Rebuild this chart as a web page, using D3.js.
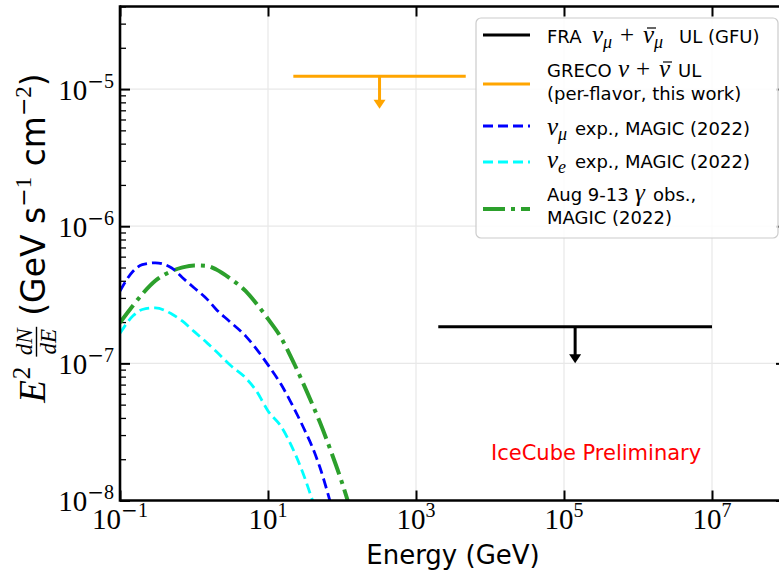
<!DOCTYPE html>
<html><head><meta charset="utf-8">
<script src="https://cdn.jsdelivr.net/npm/d3@7"></script>
<style>body{margin:0;background:#fff} text{white-space:pre}</style>
</head><body><svg id="c" width="779" height="578"></svg>
<script>
// ---------------- data ----------------
const numuEnergy = [0.1,0.15,0.2,0.3,0.5,0.7,1,1.5,2,3,5,7,10,15,20,30,40,50,70];
const numuFlux   = [3.37e-7,4.69e-7,5.25e-7,5.41e-7,4.96e-7,4.21e-7,3.56e-7,2.94e-7,2.47e-7,2.03e-7,1.58e-7,1.27e-7,9.75e-8,7.03e-8,5.31e-8,3.42e-8,2.43e-8,1.76e-8,9.6e-9];
const nueEnergy  = [0.1,0.15,0.2,0.3,0.5,0.7,1,1.5,2,3,5,7,10,15,20,30,40,50];
const nueFlux    = [1.66e-7,2.22e-7,2.47e-7,2.54e-7,2.29e-7,2.03e-7,1.71e-7,1.41e-7,1.22e-7,9.84e-8,7.82e-8,6.27e-8,4.5e-8,3.47e-8,2.61e-8,1.56e-8,1.0e-8,7.1e-9];
const gammaEnergy= [0.1,0.15,0.2,0.3,0.5,0.7,1,1.5,2,3,5,7,10,15,20,30,40,50,70,100,120,150];
const gammaFlux  = [1.98e-7,2.64e-7,3.20e-7,4.0e-7,4.71e-7,5.01e-7,5.18e-7,5.14e-7,4.83e-7,4.20e-7,3.36e-7,2.72e-7,2.11e-7,1.54e-7,1.14e-7,7.12e-8,4.99e-8,3.75e-8,2.33e-8,1.35e-8,9.9e-9,6.6e-9];
const fraEnergyRange   = [2e3, 1e7];
const fraUpperLimit    = 1.85e-7;
const fraArrowTip      = 1.0e-7;
const grecoEnergyRange = [22, 4.7e3];
const grecoUpperLimit  = 1.24e-5;
const grecoArrowTip    = 7.2e-6;
const xTickValues   = [1e-1, 1e1, 1e3, 1e5, 1e7];
const xTickExponents= ["−1","1","3","5","7"];
const yTickValues   = [1e-8, 1e-7, 1e-6, 1e-5];
const yTickExponents= ["−8","−7","−6","−5"];
const colors = {fra:"#000000", greco:"#ffa500", numu:"#0000ff", nue:"#00ffff", gamma:"#2ca02c"};

// ---------------- setup ----------------
const SANS = "'DejaVu Sans', sans-serif";
const SERIF = "'Liberation Serif', 'DejaVu Serif', serif";
const svg = d3.select("#c");
const L = 120, R = 786, T = 6.5, B = 500.5;
const x = d3.scaleLog().domain([1e-1, 1e8]).range([L, R]);
const y = d3.scaleLog().domain([1e-8, 4e-5]).range([B, T]);

svg.append("rect").attr("width",779).attr("height",578).attr("fill","#fff");
svg.append("defs").append("clipPath").attr("id","clip")
  .append("rect").attr("x",L).attr("y",T).attr("width",R-L).attr("height",B-T);

// grid
const grid = svg.append("g").attr("stroke","#e8e8e8").attr("stroke-width",1.2);
xTickValues.forEach(v=>grid.append("line").attr("x1",x(v)).attr("x2",x(v)).attr("y1",T).attr("y2",B));
yTickValues.forEach(v=>grid.append("line").attr("y1",y(v)).attr("y2",y(v)).attr("x1",L).attr("x2",R));

const yMinor = [];
for (let d=-8; d<=-5; d++) for (let k=2; k<=9; k++){ const v=k*Math.pow(10,d); if (v<=4e-5) yMinor.push(v); }

function styleAxis(g, w){ g.select(".domain").remove(); g.selectAll("line").attr("stroke","#000").attr("stroke-width",w); g.selectAll("text").remove(); }
svg.append("g").attr("transform",`translate(${L},0)`).call(d3.axisLeft(y).tickValues(yTickValues).tickSizeInner(-10).tickSizeOuter(0)).call(g=>styleAxis(g,2));
svg.append("g").attr("transform",`translate(${L},0)`).call(d3.axisLeft(y).tickValues(yMinor).tickSizeInner(-6).tickSizeOuter(0)).call(g=>styleAxis(g,1.3));
svg.append("g").attr("transform",`translate(${R},0)`).call(d3.axisRight(y).tickValues(yTickValues).tickSizeInner(-10).tickSizeOuter(0)).call(g=>styleAxis(g,2));
svg.append("g").attr("transform",`translate(${R},0)`).call(d3.axisRight(y).tickValues(yMinor).tickSizeInner(-6).tickSizeOuter(0)).call(g=>styleAxis(g,1.3));
svg.append("g").attr("transform",`translate(0,${B})`).call(d3.axisBottom(x).tickValues(xTickValues).tickSizeInner(-10).tickSizeOuter(0)).call(g=>styleAxis(g,2));
svg.append("g").attr("transform",`translate(0,${T})`).call(d3.axisTop(x).tickValues(xTickValues).tickSizeInner(-10).tickSizeOuter(0)).call(g=>styleAxis(g,2));

// rich text helper (segments may carry absolute x, baseline offset o, and a bar flag)
function rich(parent, px, py, segs, anchor){
  const t = parent.append("text").attr("x",px).attr("y",py).attr("text-anchor",anchor||"start");
  let cur = 0; const bars = [];
  segs.forEach(s=>{
    const sp = t.append("tspan").text(s.t).attr("font-family", s.f||SANS).attr("font-size", s.s)
      .attr("fill", s.c||"#000");
    if (s.i) sp.attr("font-style","italic");
    if (s.x!=null) sp.attr("x", s.x);
    if (s.dx) sp.attr("dx", s.dx);
    const off = s.o||0; sp.attr("dy", off-cur); cur = off;
    if (s.bar) bars.push(sp);
  });
  bars.forEach(sp=>{
    const bb = sp.node().getBBox();
    parent.append("line").attr("x1",bb.x+4).attr("x2",bb.x+bb.width+1)
      .attr("y1",py-15).attr("y2",py-15).attr("stroke","#000").attr("stroke-width",1.2);
  });
  return t;
}
const MINUS_F = SANS;
function expSegs(e, size, sup, off){
  const segs = [{t:"10",f:SERIF,s:size}];
  if (e.startsWith("−")) { segs.push({t:"−",f:MINUS_F,s:sup,o:off}); segs.push({t:e.slice(1),f:SERIF,s:sup,o:off}); }
  else segs.push({t:e,f:SERIF,s:sup,o:off});
  return segs;
}

// tick labels
xTickValues.forEach((v,i)=>rich(svg, x(v), 529, expSegs(xTickExponents[i],29,20,-12), "middle"));
yTickValues.forEach((v,i)=>rich(svg, 114, y(v)+10.5, expSegs(yTickExponents[i],29,20,-12), "end"));

// data lines
const plot = svg.append("g").attr("clip-path","url(#clip)");
const line = d3.line().x(d=>x(d[0])).y(d=>y(d[1])).curve(d3.curveMonotoneX);
plot.append("path").datum(d3.zip(gammaEnergy,gammaFlux)).attr("d",line).attr("fill","none")
  .attr("stroke",colors.gamma).attr("stroke-width",4).attr("stroke-dasharray","22,6,4,6");
plot.append("path").datum(d3.zip(numuEnergy,numuFlux)).attr("d",line).attr("fill","none")
  .attr("stroke",colors.numu).attr("stroke-width",2.8).attr("stroke-dasharray","10,5");
plot.append("path").datum(d3.zip(nueEnergy,nueFlux)).attr("d",line).attr("fill","none")
  .attr("stroke",colors.nue).attr("stroke-width",2.8).attr("stroke-dasharray","10,5");

function upperLimit(range, val, tip, col){
  const xm = Math.sqrt(range[0]*range[1]);
  plot.append("line").attr("x1",x(range[0])).attr("x2",x(range[1])).attr("y1",y(val)).attr("y2",y(val))
    .attr("stroke",col).attr("stroke-width",3);
  const yt = y(tip), hh = 9, hw = 6;
  plot.append("line").attr("x1",x(xm)).attr("x2",x(xm)).attr("y1",y(val)).attr("y2",yt-hh+1)
    .attr("stroke",col).attr("stroke-width",3);
  plot.append("path").attr("d",`M${x(xm)-hw},${yt-hh}L${x(xm)+hw},${yt-hh}L${x(xm)},${yt}Z`).attr("fill",col);
}
upperLimit(grecoEnergyRange, grecoUpperLimit, grecoArrowTip, colors.greco);
upperLimit(fraEnergyRange, fraUpperLimit, fraArrowTip, colors.fra);

// spines
const sp = svg.append("g").attr("stroke","#000").attr("stroke-width",2.6);
sp.append("line").attr("x1",L).attr("x2",L).attr("y1",T-1.3).attr("y2",B+1.3);
sp.append("line").attr("x1",R).attr("x2",R).attr("y1",T-1.3).attr("y2",B+1.3);
sp.append("line").attr("x1",L).attr("x2",R).attr("y1",T).attr("y2",T);
sp.append("line").attr("x1",L).attr("x2",R).attr("y1",B).attr("y2",B);

// IceCube Preliminary
svg.append("text").attr("x",491).attr("y",460).attr("font-family",SANS).attr("font-size",21)
  .attr("fill","#ff0000").text("IceCube Preliminary");

// x label
svg.append("text").attr("x",(L+R)/2).attr("y",564).attr("text-anchor","middle")
  .attr("font-family",SANS).attr("font-size",26).text("Energy (GeV)");

// y label
const yl = svg.append("g").attr("transform",`translate(45,238) rotate(-90)`);
const inner = yl.append("g");
let cx = 0;
function add(str, font, size, italic, dy){
  const t = inner.append("text").attr("x",cx).attr("y",dy||0).attr("font-family",font).attr("font-size",size).text(str);
  if (italic) t.attr("font-style","italic");
  cx += t.node().getComputedTextLength(); return t;
}
add("E", SERIF, 37, true); cx += 1;
add("2", SERIF, 25, false, -15); cx += 10;
{
  const n = inner.append("text").attr("y",-13).attr("font-family",SERIF).attr("font-size",23).attr("font-style","italic").attr("text-anchor","middle").text("dN");
  const d = inner.append("text").attr("y",11).attr("font-family",SERIF).attr("font-size",23).attr("font-style","italic").attr("text-anchor","middle").text("dE");
  const fw = Math.max(n.node().getComputedTextLength(), d.node().getComputedTextLength()) + 3;
  n.attr("x", cx+fw/2); d.attr("x", cx+fw/2);
  inner.append("line").attr("x1",cx).attr("x2",cx+fw).attr("y1",-8.5).attr("y2",-8.5).attr("stroke","#000").attr("stroke-width",1.4);
  cx += fw + 11;
}
add("(GeV s", SANS, 33);
add("−", SANS, 22, false, -14);
add("1", SERIF, 23, false, -14);
add(" cm", SANS, 33);
add("−", SANS, 22, false, -14);
add("2", SERIF, 23, false, -14);
add(")", SANS, 33);
inner.attr("transform",`translate(${-cx/2},0)`);

// legend
const lg = svg.append("g");
lg.append("rect").attr("x",476).attr("y",18).attr("width",302).attr("height",220).attr("rx",5)
  .attr("fill","#fff").attr("fill-opacity",0.85).attr("stroke","#cccccc").attr("stroke-width",1.2);
const hx1 = 483, hx2 = 530, tx = 547;
const NU = (px)=>({t:"ν",f:SERIF,i:1,s:25,x:px});
const NUBAR = (px)=>({t:"ν",f:SERIF,i:1,s:25,x:px,bar:true});
const SUB = s=>({t:s,f:SERIF,i:1,s:18,o:5});
const PLUS = (px)=>({t:"+",f:SERIF,s:25,x:px});
const legendItems = [
  {col:colors.fra, dash:null, w:3, hy:35, lines:[[{t:"FRA",s:18},NU(592),SUB("μ"),PLUS(620),NUBAR(643),SUB("μ"),{t:"UL (GFU)",s:18,x:679}]], ys:[43]},
  {col:colors.greco, dash:null, w:3, hy:84, lines:[[{t:"GRECO",s:18},NU(618),PLUS(636),NUBAR(659),{t:"UL",s:18,x:678}],[{t:"(per-flavor, this work)",s:18}]], ys:[77,100]},
  {col:colors.numu, dash:"10,5", w:2.8, hy:126, lines:[[NU(547),SUB("μ"),{t:"exp., MAGIC (2022)",s:18,x:575}]], ys:[135]},
  {col:colors.nue, dash:"10,5", w:2.8, hy:162, lines:[[NU(547),SUB("e"),{t:"exp., MAGIC (2022)",s:18,x:575}]], ys:[168]},
  {col:colors.gamma, dash:"22,6,4,6", w:4, hy:209, lines:[[{t:"Aug 9-13",s:18},{t:"γ",f:SERIF,i:1,s:25,x:635},{t:"obs.,",s:18,x:653}],[{t:"MAGIC (2022)",s:18}]], ys:[201,224]}
];
legendItems.forEach(it=>{
  const l = lg.append("line").attr("x1",hx1).attr("x2",hx2).attr("y1",it.hy).attr("y2",it.hy)
    .attr("stroke",it.col).attr("stroke-width",it.w);
  if (it.dash) l.attr("stroke-dasharray",it.dash);
  it.lines.forEach((segs,k)=>rich(lg, tx, it.ys[k], segs));
});
</script>
</body></html>
